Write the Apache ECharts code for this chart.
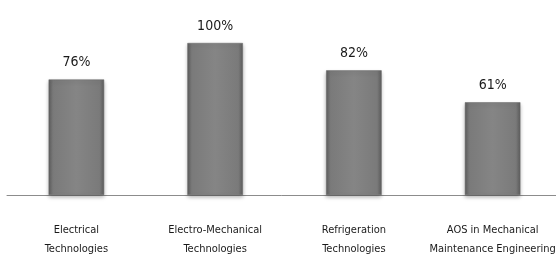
<!DOCTYPE html>
<html>
<head>
<meta charset="utf-8">
<script src="https://cdn.jsdelivr.net/npm/echarts@6/dist/echarts.min.js"></script>
<style>
    html, body { margin: 0; padding: 0; background: #fff; }
    #chart { width: 556px; height: 256px; }
</style>
</head>
<body>
<div id="chart"></div>
<script>
    // 各专业的比例
    var categories = [
        'Electrical\nTechnologies',
        'Electro-Mechanical\nTechnologies',
        'Refrigeration\nTechnologies',
        'AOS in Mechanical\nMaintenance Engineering'
    ];
    var values = [76, 100, 82, 61];

    var FONT = '"DejaVu Sans Condensed", "Liberation Sans Narrow", "Open Sans", sans-serif';

    var chart = echarts.init(document.getElementById('chart'));

    var barColor = new echarts.graphic.LinearGradient(0, 0, 1, 0, [
        { offset: 0, color: '#5e5e5e' },
        { offset: 0.08, color: '#7a7a7a' },
        { offset: 0.5, color: '#858585' },
        { offset: 0.92, color: '#7a7a7a' },
        { offset: 1, color: '#5e5e5e' }
    ]);

    chart.setOption({
        animation: false,
        grid: { left: 7, right: -6, top: 43, bottom: 61, outerBoundsMode: 'none', containLabel: false },
        xAxis: {
            type: 'category',
            data: categories,
            axisLine: { lineStyle: { color: '#8c8c8c', width: 1 } },
            axisTick: { show: false },
            axisLabel: {
                color: '#1a1a1a',
                fontFamily: FONT,
                fontSize: 11,
                lineHeight: 19,
                margin: 26,
                interval: 0
            }
        },
        yAxis: {
            type: 'value',
            min: 0,
            max: 100,
            show: false,
            splitLine: { show: false }
        },
        series: [{
            type: 'bar',
            data: values,
            barWidth: '40%',
            itemStyle: {
                color: barColor,
                borderColor: '#666',
                borderWidth: 0.5,
                shadowColor: 'rgba(0,0,0,0.3)',
                shadowBlur: 4,
                shadowOffsetY: 2
            },
            label: {
                show: true,
                position: 'top',
                distance: 10,
                formatter: '{c}%',
                color: '#1a1a1a',
                fontFamily: FONT,
                fontSize: 14
            }
        }]
    });
</script>
</body>
</html>
